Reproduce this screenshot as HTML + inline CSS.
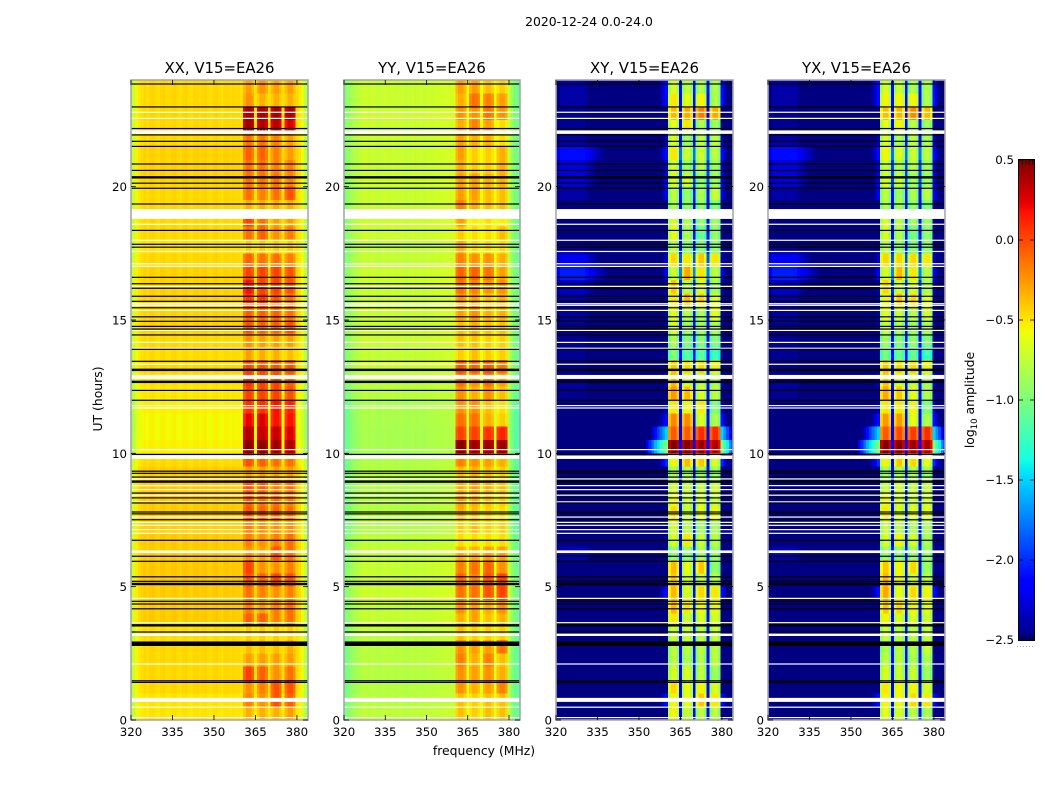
<!DOCTYPE html>
<html>
<head>
<meta charset="utf-8">
<title>2020-12-24 0.0-24.0</title>
<style>
html,body{margin:0;padding:0;background:#fff;width:1050px;height:800px;overflow:hidden}
svg{display:block}
text{font-family:"DejaVu Sans","Liberation Sans",sans-serif;fill:#000}
</style>
</head>
<body>
<svg id="figure" xmlns="http://www.w3.org/2000/svg" width="1050" height="800" viewBox="0 0 1050 800">
<text x="589" y="26" font-size="12.4" text-anchor="middle">2020-12-24 0.0-24.0</text>
<text transform="translate(102,399) rotate(-90)" font-size="12.4" text-anchor="middle">UT (hours)</text>
<text x="484" y="755" font-size="12.4" text-anchor="middle">frequency (MHz)</text>
<text transform="translate(974,400) rotate(-90)" font-size="12.4" text-anchor="middle">log<tspan font-size="8.5" dy="3">10</tspan><tspan dy="-3"> amplitude</tspan></text>
</svg>
<script>
const svgNS = 'http://www.w3.org/2000/svg';
const channels = [320,321,322,323,324,325,326,327,328,329,330,331,332,333,334,335,336,337,338,339,340,341,342,343,344,345,346,347,348,349,350,351,352,353,354,355,356,357,358,359,360,361,362,363,364,365,366,367,368,369,370,371,372,373,374,375,376,377,378,379,380,381,382,383,384];
const timeBins = [0,0.5,1,1.5,2,2.5,3,3.5,4,4.5,5,5.5,6,6.5,7,7.5,8,8.5,9,9.5,10,10.5,11,11.5,12,12.5,13,13.5,14,14.5,15,15.5,16,16.5,17,17.5,18,18.5,19,19.5,20,20.5,21,21.5,22,22.5,23,23.5];
const bandChannels = [[361,362,363,364],[366,367,368,369],[371,372,373,374],[376,377,378,379]];
const xTickLabels = [320,335,350,365,380];
const yTickLabels = [0,5,10,15,20];
const colorbarTickLabels = [0.5,0,-0.5,-1,-1.5,-2,-2.5];

const panelTitles = ['XX, V15=EA26','YY, V15=EA26','XY, V15=EA26','YX, V15=EA26'];

const xxQuiet = [-.5,-.5,-.46,-.46,-.46,-.46,-.48,-.42,-.42,-.42,-.41,-.41,-.42,-.42,-.44,-.42,-.42,-.42,-.42,-.47,-.54,-.56,-.56,-.54,-.51,-.49,-.46,-.47,-.46,-.44,-.44,-.44,-.44,-.44,-.46,-.49,-.46,-.46,-.46,-.46,-.44,-.44,-.44,-.46,-.46,-.46,-.46,-.46];
const yyQuiet = [-.76,-.78,-.79,-.79,-.78,-.78,-.76,-.74,-.74,-.72,-.72,-.74,-.74,-.76,-.8,-.8,-.8,-.8,-.8,-.81,-.84,-.84,-.83,-.82,-.78,-.76,-.72,-.74,-.72,-.72,-.72,-.72,-.72,-.72,-.74,-.74,-.72,-.72,-.72,-.72,-.72,-.72,-.72,-.72,-.72,-.72,-.72,-.72];
const xyQuiet = [-2.5,-2.5,-2.5,-2.5,-2.5,-2.5,-2.5,-2.5,-2.5,-2.5,-2.5,-2.5,-2.35,-2.5,-2.5,-2.5,-2.5,-2.5,-2.5,-2.5,-2.5,-2.5,-2.5,-2.5,-2.45,-2.4,-2.45,-2.45,-2.45,-2.45,-2.4,-2.4,-2.3,-2.05,-2.2,-2.45,-2.5,-2.5,-2.5,-2.4,-2.25,-2.25,-2.1,-2.4,-2.45,-2.45,-2.4,-2.4];
const yxQuiet = [-2.5,-2.5,-2.5,-2.5,-2.5,-2.5,-2.5,-2.5,-2.5,-2.5,-2.5,-2.5,-2.38,-2.5,-2.5,-2.5,-2.5,-2.5,-2.5,-2.5,-2.5,-2.5,-2.5,-2.5,-2.45,-2.4,-2.45,-2.45,-2.45,-2.45,-2.4,-2.4,-2.3,-2.05,-2.2,-2.45,-2.5,-2.5,-2.5,-2.4,-2.25,-2.25,-2.1,-2.4,-2.45,-2.45,-2.4,-2.4];

const xxBands = [[-.3,-.3,-.3,-.25],[-.15,-.2,0,-.05],[-.2,-.15,0,0],[.05,-.05,-.2,-.1],[-.25,-.25,-.25,-.25],[-.35,-.35,-.35,-.3],[-.4,-.4,-.4,-.4],[-.05,-.05,-.15,-.1],[-.15,-.25,-.15,-.1],[-.1,-.15,-.2,-.15],[0,-.05,.05,0],[.05,-.2,-.2,-.15],[-.2,-.25,0,-.1],[-.15,-.2,-.15,-.1],[-.15,-.2,-.2,-.2],[0,-.05,-.05,-.1],[-.05,-.1,-.1,-.15],[0,-.05,-.15,-.1],[-.25,-.25,-.25,-.25],[0,-.05,-.1,-.1],[.5,.5,.45,.4],[.4,.35,.35,.3],[.25,.3,.2,.2],[.1,.1,.2,.15],[.05,.05,.05,0],[.1,.05,.05,-.05],[.05,.02,0,0],[-.25,-.3,-.3,-.35],[-.2,-.25,-.25,-.25],[0,-.05,-.05,0],[-.05,-.05,-.05,-.1],[.1,.1,0,-.1],[.2,.05,.05,0],[.05,.05,.05,0],[-.05,-.1,-.1,-.15],[-.4,-.4,-.4,-.4],[-.1,-.05,-.2,-.15],[.05,-.1,-.25,-.25],[-.3,-.3,-.3,-.3],[-.1,-.15,-.1,0],[-.1,-.1,-.1,-.15],[-.1,-.1,-.15,-.15],[-.05,-.05,-.15,-.25],[-.1,-.1,-.15,-.25],[.45,.4,.38,.3],[.42,.42,.42,.42],[-.2,-.3,-.3,-.3],[-.25,-.2,-.25,-.25]];
const yyBands = [[-.35,-.4,-.35,-.35],[-.35,-.4,-.35,-.35],[-.2,-.3,-.25,-.15],[-.2,-.25,-.2,-.3],[-.15,-.3,-.15,-.35],[-.2,-.25,-.25,-.1],[-.35,-.4,-.4,-.4],[-.3,-.25,-.35,-.3],[-.2,-.25,-.3,-.2],[-.1,-.1,0,.05],[-.05,-.15,0,.05],[-.15,-.1,-.05,-.2],[-.3,-.3,-.25,-.25],[-.45,-.45,-.45,-.45],[-.4,-.35,-.4,-.4],[-.3,-.35,-.4,-.45],[-.25,-.3,-.35,-.4],[-.3,-.25,-.3,-.35],[-.35,-.3,-.35,-.4],[-.15,-.2,-.25,-.3],[.5,.45,.45,.45],[.05,.05,.1,.15],[-.1,-.1,-.3,-.4],[-.2,-.2,-.35,-.45],[-.2,-.3,-.2,-.35],[-.1,-.2,-.1,-.25],[0,-.05,0,-.1],[-.4,-.35,-.4,-.4],[-.35,-.35,-.4,-.4],[-.35,-.3,-.35,-.35],[-.25,-.2,-.3,-.3],[-.2,-.25,-.35,-.3],[-.1,-.15,-.2,-.2],[-.05,-.05,-.1,-.25],[-.15,-.2,-.2,-.3],[-.3,-.45,-.45,-.45],[-.4,-.45,-.45,-.35],[-.25,-.5,-.45,-.5],[-.15,-.3,-.35,-.35],[-.25,-.25,-.35,-.35],[-.25,-.25,-.3,-.3],[-.3,-.4,-.4,-.3],[-.25,-.4,-.4,-.3],[-.25,-.3,-.3,-.45],[-.3,-.15,-.25,-.45],[-.2,-.2,-.1,-.2],[-.3,-.1,-.15,-.25],[-.25,-.25,-.35,-.4]];
const xyBands = [[-.6,-.75,-.8,-.8],[-.6,-.65,-.45,-.55],[-.5,-.65,-.6,-.7],[-.7,-.7,-.8,-.9],[-.8,-.85,-.85,-.8],[-.8,-.8,-.8,-.8],[-.75,-.75,-.8,-.75],[-.55,-.75,-.7,-.7],[-.4,-.55,-.6,-.6],[-.4,-.7,-.5,-.55],[-.45,-.7,-.75,-.8],[-.4,-.65,-.45,-.95],[-.95,-.95,-.85,-.9],[-.7,-.55,-.75,-.8],[-.7,-.8,-.9,-.85],[-.5,-.75,-.65,-.6],[-.6,-.75,-.7,-.75],[-.7,-.75,-.75,-.7],[-.85,-.85,-.9,-.9],[-.6,-.4,-.45,-.7],[.5,.5,.4,.35],[-.1,-.1,.05,.05],[-.25,-.25,-.7,-.85],[-.55,-.6,-.55,-1],[-.3,-.4,-.7,-.8],[-.4,-.7,-.8,-.85],[-.45,-.5,-.5,-.6],[-1,-1.15,-1.15,-1.25],[-.85,-1,-1,-1],[-.7,-.9,-.9,-.85],[-.65,-.8,-.85,-.65],[-.55,-.4,-.5,-.65],[-.45,-.8,-.7,-.9],[-.75,-.35,-.55,-.8],[-.5,-.55,-.45,-.55],[-.8,-.95,-1,-.95],[-.65,-.85,-1.1,-.95],[-.7,-.85,-.95,-.9],[-.85,-.95,-.95,-1],[-.8,-.95,-.85,-.75],[-.7,-.7,-.95,-.9],[-.7,-.9,-.8,-.9],[-.55,-.75,-.75,-.8],[-.7,-.9,-.8,-.8],[-.65,-.55,-.85,-.9],[-.4,-.35,-.2,-.35],[-.55,-.65,-.6,-.85],[-.7,-.8,-.85,-.85]];
const yxBands = [[-.65,-.7,-.8,-.85],[-.6,-.6,-.5,-.55],[-.55,-.6,-.6,-.7],[-.7,-.75,-.75,-.9],[-.8,-.8,-.85,-.85],[-.85,-.8,-.8,-.75],[-.75,-.8,-.8,-.75],[-.6,-.7,-.7,-.75],[-.45,-.5,-.6,-.65],[-.35,-.65,-.5,-.6],[-.4,-.6,-.7,-.8],[-.45,-.6,-.5,-.9],[-.9,-.95,-.9,-.9],[-.7,-.6,-.7,-.85],[-.75,-.8,-.85,-.85],[-.55,-.7,-.65,-.65],[-.6,-.7,-.75,-.7],[-.75,-.7,-.75,-.75],[-.9,-.85,-.85,-.9],[-.6,-.45,-.5,-.65],[.45,.45,.4,.35],[-.1,-.05,0,.05],[-.3,-.3,-.65,-.85],[-.55,-.55,-.6,-1],[-.35,-.45,-.65,-.85],[-.45,-.7,-.75,-.85],[-.45,-.5,-.5,-.6],[-1.05,-1.1,-1.1,-1.25],[-.9,-1,-.95,-1],[-.75,-.85,-.9,-.85],[-.65,-.75,-.8,-.7],[-.6,-.45,-.5,-.65],[-.5,-.75,-.7,-.85],[-.7,-.4,-.55,-.8],[-.5,-.5,-.5,-.55],[-.8,-.9,-1,-.95],[-.7,-.85,-1.05,-.95],[-.7,-.8,-.9,-.9],[-.85,-.9,-.95,-1],[-.8,-.9,-.85,-.8],[-.7,-.75,-.9,-.9],[-.75,-.85,-.8,-.9],[-.6,-.7,-.75,-.8],[-.7,-.85,-.8,-.85],[-.65,-.6,-.8,-.9],[-.42,-.38,-.25,-.4],[-.6,-.6,-.6,-.85],[-.7,-.75,-.85,-.85]];

const xxSpectrum = [-.35,-.25,-.1,-.05,-.02,.01,-.02,.01,.02,-.01,-.02,.01,.02,-.01,-.01,.01,.02,-.01,-.02,.01,.02,-.01,-.02,.01,.01,-.01,.01,.02,-.01,-.02,.01,.02,-.01,-.02,.01,.01,-.01,.01,0,0,-.02,-.12,-.02,-.02,-.12,-.02,-.12,-.02,-.02,-.12,-.02,-.12,-.02,-.02,-.12,-.02,-.12,-.02,-.02,-.12,0,-.05,-.15,-.3,-.4];
const yySpectrum = [-.3,-.22,-.18,-.12,-.08,-.05,-.02,.01,.02,-.01,.01,.02,-.01,-.02,.01,.02,-.01,.01,.02,-.02,.01,.02,-.01,-.02,.01,.02,-.01,.01,.02,-.01,.01,.02,.01,.02,.03,.03,.04,.04,.04,.05,.05,-.1,-.02,-.02,-.1,.15,-.1,-.02,-.02,-.1,.15,-.1,-.02,-.02,-.1,.15,-.1,-.02,-.02,-.1,0,-.15,-.28,-.32,-.32];
const xySpectrum = [-.2,-.1,0,0,0,0,0,0,0,0,0,-.05,-.1,-.15,-.2,-.25,-.3,-.35,-.4,-.5,-.5,-.5,-.5,-.5,-.5,-.5,-.5,-.5,-.5,-.5,-.5,-.5,-.5,-.5,-.5,-.5,-.5,-.5,-.5,-.5,-.5,-.14,.05,.05,-.14,.3,-.14,.05,.05,-.14,.3,-.14,.05,.05,-.14,.3,-.14,.05,.05,-.14,-.5,-.5,-.5,-.5,-.5];
const yxSpectrum = [-.2,-.1,0,0,0,0,0,0,0,0,0,-.05,-.1,-.15,-.2,-.25,-.3,-.35,-.4,-.5,-.5,-.5,-.5,-.5,-.5,-.5,-.5,-.5,-.5,-.5,-.5,-.5,-.5,-.5,-.5,-.5,-.5,-.5,-.5,-.5,-.5,-.14,.05,.05,-.14,.3,-.14,.05,.05,-.14,.3,-.14,.05,.05,-.14,.3,-.14,.05,.05,-.14,-.5,-.5,-.5,-.5,-.5];

const crossFlare = [-2.5,-2.1,-2.5,-2.5,-2.5,-2.5,-2.5,-2.5,-2.5,-2.1,-2.5,-2.5,-2.5,-2.5,-2.5,-2.5,-2.5,-2.5,-2.5,-2,-1,-1.5,-2.1,-2.4,-2.5,-2.3,-2.5,-2.5,-2.5,-2.4,-2.4,-2.4,-2.4,-2.2,-2.3,-2.5,-2.5,-2.5,-2.5,-2.2,-2.2,-2.3,-2.1,-2.3,-2.5,-2.5,-2.1,-2.1];
const flareProfile = [-9,-9,-9,-9,-9,-9,-9,-9,-9,-9,-9,-9,-9,-9,-9,-9,-9,-9,-9,-9,-9,-9,-9,-9,-9,-9,-9,-9,-9,-9,-9,-9,-9,-1.2,-1,-.8,-.6,-.45,-.3,-.15,0,-9,-9,-9,-9,-9,-9,-9,-9,-9,-9,-9,-9,-9,-9,-9,-9,-9,-9,-9,0,-.2,-.4,-.7,-1];

const whiteTimes = [22.79,22.56,18.59,17.99,17.57,17.11,17.01,16.26,15.61,15.55,15.36,14.61,14.16,13.94,13.34,11.79,11.7,10.14,9.04,8.79,8.64,8.43,8.18,7.61,7.41,7.3,7.14,7,4.56,3.65,2.1,0.48,0.09];
const whiteBandStarts = [21.98,18.79,12.79,9.79,6.26,3.15,0.68];
const whiteBandEnds = [22.11,19.16,12.94,9.92,6.36,3.24,0.83];
const blackTimes = [23.85,22.99,22.18,21.94,21.7,21.51,20.85,20.61,20.13,19.94,19.35,18.36,17.84,17.73,16.6,16.36,16.19,15.89,15.7,15.46,15.12,14.95,14.76,14.66,14.44,13.9,13.45,12.36,11.99,9.96,9.33,9.25,9.11,8.51,8.33,8.14,7.8,7.73,7.51,6.74,6.14,5.95,5.37,5.2,4.45,4.35,4.17,3.3,1.47,1.41];
const thickBlackTimes = [20.35,13.13,12.68,8.94,5.1,3.55,2.9,2.82];

const panelLefts = [131,344,556,768];
const panelWidths = [177,176,177,177];
const axisTop = 80, axisBottom = 720;
const freqMin = 320, freqMax = 384, utMin = 0, utMax = 24, ampMin = -2.5, ampMax = 0.5;
const cbLeft = 1019, cbWidth = 15, cbTop = 160, cbBottom = 640;

const svg = document.getElementById('figure');

function xScale(panel, f) {
  return panelLefts[panel] + (f - freqMin) / (freqMax - freqMin) * panelWidths[panel];
}
function yScale(t) {
  return axisBottom - (t - utMin) / (utMax - utMin) * (axisBottom - axisTop);
}
function cbScale(v) {
  return cbBottom - (v - ampMin) / (ampMax - ampMin) * (cbBottom - cbTop);
}
function ramp(f, pts) {
  for (let i = 1; i < pts.length; i++) {
    if (f <= pts[i][0]) {
      const a = pts[i - 1], b = pts[i];
      return a[1] + (b[1] - a[1]) * (f - a[0]) / (b[0] - a[0]);
    }
  }
  return pts[pts.length - 1][1];
}
function jet(v) {
  const f = Math.max(0, Math.min(1, (v - ampMin) / (ampMax - ampMin)));
  const r = ramp(f, [[0,0],[.35,0],[.66,1],[.89,1],[1,.5]]);
  const g = ramp(f, [[0,0],[.125,0],[.375,1],[.64,1],[.91,0],[1,0]]);
  const b = ramp(f, [[0,.5],[.11,1],[.34,1],[.65,0],[1,0]]);
  return 'rgb(' + Math.round(r * 255) + ',' + Math.round(g * 255) + ',' + Math.round(b * 255) + ')';
}
function make(tag, attrs, parent) {
  const el = document.createElementNS(svgNS, tag);
  for (const k in attrs) el.setAttribute(k, attrs[k]);
  parent.appendChild(el);
  return el;
}
function cellValue(ch, bin, quiet, bands, spectrum, flare) {
  const f = channels[ch];
  for (let b = 0; b < bandChannels.length; b++) {
    if (bandChannels[b].indexOf(f) >= 0) return bands[bin][b] + spectrum[ch];
  }
  let v = quiet[bin] + spectrum[ch];
  if (flare) v = Math.max(v, flare[bin] + flareProfile[ch]);
  return v;
}

const panelQuiet = [xxQuiet, yyQuiet, xyQuiet, yxQuiet];
const panelBands = [xxBands, yyBands, xyBands, yxBands];
const panelSpectrum = [xxSpectrum, yySpectrum, xySpectrum, yxSpectrum];
const panelFlare = [null, null, crossFlare, crossFlare];

panelTitles.forEach(function (title, p) {
  const g = make('g', {}, svg);
  
  

  const heat = make('g', {'shape-rendering': 'crispEdges'}, g);
  
  
  timeBins.forEach(function (t, bin) {
    channels.forEach(function (f, ch) {
      const x0 = xScale(p, Math.max(freqMin, f - 0.5));
      const x1 = xScale(p, Math.min(freqMax, f + 0.5));
      const y0 = yScale(t + 0.5);
      const y1 = yScale(t);
      const cell = make('rect', {x: x0, y: y0, width: x1 - x0, height: y1 - y0, fill: jet(cellValue(ch, bin, panelQuiet[p], panelBands[p], panelSpectrum[p], panelFlare[p]))}, heat);
      
      
    });
  });

  const left = xScale(p, freqMin), right = xScale(p, freqMax), w = right - left;

  whiteBandStarts.forEach(function (s, i) {
    const r = make('rect', {x: left, y: yScale(whiteBandEnds[i]), width: w, height: yScale(s) - yScale(whiteBandEnds[i]), fill: '#fff'}, g);
    
    
  });
  whiteTimes.forEach(function (t) {
    const r = make('rect', {x: left, y: yScale(t) - 0.6, width: w, height: 1.2, fill: '#fff'}, g);
    
    
  });
  blackTimes.forEach(function (t) {
    const r = make('rect', {x: left, y: yScale(t) - 0.6, width: w, height: 1.2, fill: '#000'}, g);
    
    
  });
  thickBlackTimes.forEach(function (t) {
    const r = make('rect', {x: left, y: yScale(t) - 1.2, width: w, height: 2.4, fill: '#000'}, g);
    
    
  });

  const frame = make('rect', {x: left, y: axisTop, width: w, height: axisBottom - axisTop, fill: 'none', stroke: '#a8a8a8', 'stroke-width': 1.6}, g);
  
  

  xTickLabels.forEach(function (v) {
    const x = xScale(p, v);
    [[axisBottom, axisBottom - 5], [axisTop, axisTop + 5]].forEach(function (s) {
      const tick = make('line', {x1: x, x2: x, y1: s[0], y2: s[1], stroke: '#000', 'stroke-width': 0.8}, g);
      
      
    });
    const lab = make('text', {x: x, y: 736, 'font-size': 11.8, 'text-anchor': 'middle'}, g);
    lab.textContent = v;
    
    
  });
  yTickLabels.forEach(function (v) {
    const y = yScale(v);
    [[left, left + 5], [right, right - 5]].forEach(function (s) {
      const tick = make('line', {x1: s[0], x2: s[1], y1: y, y2: y, stroke: '#000', 'stroke-width': 0.8}, g);
      
      
    });
    const lab = make('text', {x: left - 4, y: y + 4.5, 'font-size': 11.8, 'text-anchor': 'end'}, g);
    lab.textContent = v;
    
    
  });

  const ttl = make('text', {x: left + w / 2, y: 73, 'font-size': 14.9, 'text-anchor': 'middle'}, g);
  ttl.textContent = title;
  
  
});

const cb = make('g', {}, svg);


const cbGrad = make('g', {'shape-rendering': 'crispEdges'}, cb);


for (let y = cbTop; y < cbBottom; y += 2) {
  const v = ampMax - (y + 1 - cbTop) / (cbBottom - cbTop) * (ampMax - ampMin);
  const r = make('rect', {x: cbLeft, y: y, width: cbWidth, height: 2, fill: jet(v)}, cbGrad);
  
  
}
const cbOuter = make('rect', {x: cbLeft - 0.5, y: cbTop - 0.5, width: cbWidth + 1, height: cbBottom - cbTop + 1, fill: 'none', stroke: '#000', 'stroke-width': 1}, cb);


colorbarTickLabels.forEach(function (v) {
  const y = cbScale(v);
  [[cbLeft, cbLeft + 4], [cbLeft + cbWidth, cbLeft + cbWidth - 4]].forEach(function (s) {
    const tick = make('line', {x1: s[0], x2: s[1], y1: y, y2: y, stroke: '#000', 'stroke-width': 0.8}, cb);
    
    
  });
  const lab = make('text', {x: cbLeft - 5, y: y + 4, 'font-size': 11.8, 'text-anchor': 'end'}, cb);
  lab.textContent = v.toFixed(1).replace('-', '\u2212');
  
  
});
[cbTop, cbBottom].forEach(function (y, i) {
  for (let x = cbLeft + 3.5; x < cbLeft + cbWidth - 1; x += 3.3) {
    const tick = make('line', {x1: x, x2: x, y1: y, y2: i ? y - 5 : y + 5, stroke: '#000', 'stroke-width': 0.8}, cb);
    
    
  }
});
const dots = make('line', {x1: 1017, x2: 1035, y1: 646.5, y2: 646.5, stroke: '#aaa', 'stroke-width': 1, 'stroke-dasharray': '1 2'}, cb);


</script>
</body>
</html>
